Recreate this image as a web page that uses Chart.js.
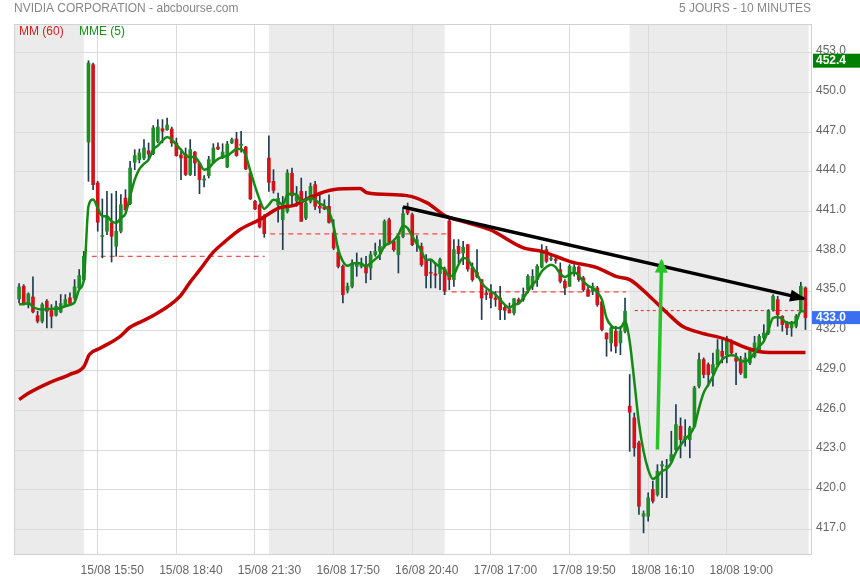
<!DOCTYPE html>
<html>
<head>
<meta charset="utf-8">
<script src="https://cdn.jsdelivr.net/npm/chart.js"></script>
<style>
html,body{margin:0;padding:0;background:#fff;}
#wrap{position:relative;width:860px;height:580px;}
</style>
</head>
<body>
<div id="wrap"><canvas id="c" width="860" height="580"></canvas></div>
<script>
// ---------- DATA (10-minute candles, index 0..170) ----------
const openP = [434.41,435.37,433.98,434.56,433.15,432.73,434.24,433.53,433.18,433.43,433.91,434.49,434.49,435.24,435.87,
446.26,452.10,443.17,439.11,439.52,440.15,438.39,439.52,442.03,441.60,444.73,444.93,445.05,445.60,445.38,446.31,447.27,447.19,447.24,446.19,445.28,445.35,443.80,445.50,444.67,443.37,443.72,444.68,445.88,445.20,444.37,446.19,446.49,446.00,445.88,443.92,441.78,441.50,440.65,
445.05,443.29,441.50,440.39,441.02,443.90,441.80,442.53,440.52,441.78,443.04,441.40,441.35,441.40,439.39,437.93,436.87,435.06,435.36,436.87,436.87,436.87,436.75,437.75,438.00,438.38,440.39,438.76,437.75,439.13,441.35,440.77,438.58,438.38,437.37,436.40,436.30,436.32,436.67,
440.30,435.87,438.38,437.88,438.51,436.75,436.40,435.87,434.86,434.86,434.48,434.48,433.78,433.60,433.35,434.36,434.36,435.11,435.36,435.87,436.82,438.13,437.42,437.40,436.62,435.74,435.36,436.50,436.82,435.99,435.11,434.98,435.24,434.20,431.84,431.09,431.97,431.09,431.97,
426.31,425.43,423.54,418.00,418.00,420.02,419.64,421.80,421.70,422.16,423.04,424.80,423.79,423.79,424.80,427.82,429.83,429.45,428.82,429.45,430.46,430.20,431.09,429.96,429.83,428.45,429.58,430.08,430.58,431.47,431.84,433.60,434.36,433.10,432.60,432.22,432.35,433.60,435.24];
const highP = [435.57,435.49,434.87,436.07,433.48,434.11,434.36,433.98,434.24,434.74,434.74,434.87,435.87,436.63,438.01,
452.40,452.22,443.29,441.96,442.54,442.36,442.54,442.29,442.66,444.80,445.68,445.73,446.44,446.19,447.50,447.95,447.95,448.07,447.39,446.56,445.55,445.81,446.44,445.55,444.73,443.72,445.18,446.13,446.19,446.13,446.31,446.56,446.99,447.07,445.93,443.97,441.86,441.60,440.78,
446.73,444.17,442.40,442.15,444.17,444.30,442.90,443.54,442.53,443.16,443.29,442.28,441.90,442.28,440.39,438.38,436.99,435.61,437.37,437.88,437.50,437.63,438.00,438.63,438.88,440.39,440.52,438.88,439.26,441.35,441.65,440.90,439.20,438.63,437.75,437.38,437.13,437.50,436.82,
440.45,438.89,438.89,438.76,438.51,437.13,438.13,435.87,435.11,435.49,434.98,435.36,433.98,434.10,434.43,434.48,435.24,436.25,436.62,437.00,438.51,438.38,437.80,437.70,437.13,435.87,437.00,437.00,436.92,436.12,435.36,435.61,435.36,434.36,431.84,432.35,432.35,432.35,434.48,
428.70,425.80,423.67,418.40,419.77,420.65,421.90,422.16,422.30,424.42,426.44,425.43,425.30,424.80,427.82,430.33,429.96,429.58,430.33,431.34,431.34,431.59,431.34,430.33,430.08,430.33,430.71,431.59,431.72,432.47,433.60,434.74,434.61,433.15,432.72,432.72,433.23,435.67,435.32];
const lowP = [434.11,433.98,433.73,433.36,432.60,432.60,432.22,432.22,433.10,433.36,433.86,433.98,434.36,435.12,435.75,
443.29,442.66,439.52,437.51,439.27,437.20,437.63,439.39,441.03,441.53,444.17,444.68,444.93,444.93,445.30,446.19,446.19,447.14,445.93,445.18,443.42,443.72,443.72,443.72,442.36,442.86,443.54,444.63,445.68,445.00,444.32,446.13,445.18,445.50,444.17,441.91,441.15,439.77,439.07,
442.53,442.40,440.20,438.13,440.90,441.50,441.40,440.27,440.40,441.65,441.15,440.90,441.15,440.14,438.13,436.75,434.10,434.86,435.24,436.12,436.75,435.61,435.86,437.63,437.37,438.25,438.58,438.00,436.37,439.01,440.77,438.43,438.00,436.87,435.24,435.24,435.24,435.11,434.73,
435.10,435.36,437.13,437.00,436.50,435.74,435.99,432.85,434.36,433.73,433.85,432.85,432.85,433.35,433.20,434.05,434.23,434.86,435.11,435.36,436.75,437.13,437.30,437.10,435.61,434.73,435.36,436.12,435.74,434.98,434.61,434.73,433.85,432.00,430.08,430.46,430.33,430.20,431.84,
422.90,422.53,418.13,416.75,417.63,419.00,419.52,419.40,419.40,422.03,422.91,422.41,423.29,422.41,424.67,427.69,428.45,427.82,427.82,429.33,429.58,429.58,430.20,427.94,428.70,428.45,429.45,429.96,430.46,431.34,431.72,433.48,432.35,431.97,431.72,431.59,432.22,433.48,432.10];
const closeP = [435.32,434.11,434.79,433.43,432.73,433.98,433.48,433.10,433.86,434.06,434.36,434.06,435.32,436.17,437.63,
452.22,443.04,440.20,439.20,440.65,439.14,439.52,441.53,441.15,444.30,445.23,445.43,445.81,445.35,447.32,447.39,447.07,447.54,446.19,445.23,445.05,443.80,445.68,444.67,443.42,443.47,444.93,445.81,445.73,445.50,446.11,446.44,445.23,446.10,444.22,441.96,441.20,439.84,439.34,
443.21,442.61,442.00,441.53,443.92,442.20,442.30,440.27,441.65,442.91,441.40,441.27,441.20,440.19,438.25,436.87,434.73,435.36,437.12,437.12,437.12,436.37,437.75,438.00,438.38,440.27,438.63,438.13,439.13,440.85,440.90,438.50,438.88,437.00,436.17,436.35,436.20,437.38,434.99,
435.87,438.13,437.83,438.31,436.67,435.87,436.10,434.48,434.73,434.48,434.36,433.60,433.55,433.35,434.43,434.10,434.73,436.12,436.12,436.87,438.06,437.25,437.50,437.30,435.74,435.24,436.87,436.82,435.87,435.11,434.61,435.36,433.98,432.10,431.39,432.22,430.84,431.97,433.48,
425.86,423.16,418.76,418.20,419.39,419.14,421.40,421.90,421.80,422.66,424.92,423.79,424.04,424.67,427.69,429.83,428.70,428.70,429.45,430.58,430.08,431.21,430.33,429.71,428.82,429.96,430.46,431.09,431.59,431.84,433.48,434.61,433.23,432.47,432.22,432.60,433.10,435.37,433.00];

// MME (5) read per candle
const mme5 = [434.0,434.0,434.1,433.8,433.66,433.61,433.63,433.66,433.66,433.73,433.86,433.96,434.16,435.12,435.87,
441.41,441.91,441.28,440.65,440.65,440.27,440.15,440.53,440.85,442.16,443.42,444.22,444.6,444.93,445.68,445.98,446.36,446.64,446.44,446.06,445.68,445.23,445.13,445.13,444.68,444.17,444.3,444.68,444.98,445.13,445.23,445.48,445.73,445.73,445.23,444.05,442.92,441.91,441.21,
441.53,441.9,441.78,441.53,442.28,442.36,442.28,441.78,441.9,442.03,441.9,441.6,441.45,441.02,439.89,438.13,437.25,436.92,437.07,437.12,437.07,436.87,437.12,437.42,437.75,438.43,438.58,438.83,439.26,439.94,439.76,439.13,438.58,438.0,437.37,437.38,437.08,436.82,436.62,
436.12,436.25,437.0,437.5,437.38,436.82,436.3,435.62,435.24,434.99,434.74,434.36,433.98,433.73,433.98,434.06,434.48,434.99,435.49,435.87,436.5,436.82,437.0,436.82,436.3,436.07,436.25,436.42,436.17,435.74,435.41,435.24,434.91,434.36,432.97,432.4,432.22,432.22,432.72,
431.2,428.2,425.05,422.9,421.53,420.82,421.02,421.4,421.58,422.03,422.84,423.34,423.84,424.17,424.8,426.18,427.32,427.94,428.57,429.33,429.83,430.08,430.16,430.08,429.71,429.71,429.88,430.33,430.84,431.21,432.1,432.97,433.05,432.9,432.6,432.6,432.72,433.48,433.48];

// MM (60) read at sample candles
const mm60Idx = [0,2.3,6.6,10.9,14,15.2,17.4,21.8,23.9,28.2,34.7,36.9,39.1,41.9,44.5,47.7,52,56.4,59.2,62.8,67.8,73.7,75.2,83.8,88.1,92.5,95.3,101.8,108.9,113.2,119.1,124.9,129.2,132,136.4,140,143.5,147.2,153,156.5,160.2,165.1,170];
const mm60Val = [426.81,427.34,428.09,428.7,429.3,430.21,430.66,431.57,432.25,433.0,434.58,435.64,436.62,437.91,438.74,439.64,440.4,441.3,441.45,442.06,442.66,442.74,442.43,442.21,441.68,440.62,440.32,439.64,438.28,437.98,437.23,436.77,436.09,435.87,434.58,433.38,432.32,431.87,431.34,430.81,430.43,430.36,430.36];

// previous-close dashed levels
const refLevel = [437.63,439.32,434.94,433.53];
const refFrom  = [15.7,54.3,93.5,133.1];
const refTo    = [53.1,92.5,131.2,170.3];

// trend arrows [index, price]
const blackArrow = [[83.0,441.35],[169.7,434.43]];
const greenArrow = [[138.0,423.04],[138.9,437.3]];

// sessions shaded (index ranges)
const shadeFrom = [-1.1,54,132];
const shadeTo   = [14,92,170.7];

const xTickIdx = [17,34,51,68,85,102,119,136,153];
const xTickLabels = ['15/08 15:50','15/08 18:40','15/08 21:30','16/08 17:50','16/08 20:40','17/08 17:00','17/08 19:50','18/08 16:10','18/08 19:00'];
const yTickVals = [417,420,423,426,429,432,435,438,441,444,447,450,453];

const titleText = 'NVIDIA CORPORATION - abcbourse.com';
const periodText = '5 JOURS - 10 MINUTES';
const legendNames = ['MM (60)','MME (5)'];

// ---------- BUILD ----------
const FONT = "'Liberation Sans', Arial, sans-serif";
Chart.defaults.font.family = FONT;
const UP = '#1f8c28', DOWN = '#d3121c', WICK = '#1f3b4e';
const idx = closeP.map((_, i) => i);

const wickData = idx.map(i => ({x: i, y: [lowP[i], highP[i]]}));
const bodyData = idx.map(i => ({x: i, y: [openP[i], closeP[i]]}));
const bodyColors = idx.map(i => closeP[i] >= openP[i] ? UP : DOWN);

const datasets = [
  {type:'line', label:'trend', data: blackArrow.map(p=>({x:p[0],y:p[1]})), borderColor:'#000', borderWidth:3.5, pointRadius:0, order:0},
  {type:'line', label:'up', data: greenArrow.map(p=>({x:p[0],y:p[1]})), borderColor:'#27c427', borderWidth:3.5, pointRadius:0, order:0},
  {type:'line', label:'MME5', data: idx.map(i=>({x:i,y:mme5[i]})), borderColor:'#148a14', borderWidth:2.5, pointRadius:0, cubicInterpolationMode:'monotone', order:1},
  {type:'line', label:'MM60', data: mm60Idx.map((v,k)=>({x:v,y:mm60Val[k]})), borderColor:'#c30000', borderWidth:3.5, pointRadius:0, cubicInterpolationMode:'monotone', order:2},
  {type:'bar', label:'body', data: bodyData, backgroundColor: bodyColors, barThickness:3, minBarLength:1, grouped:false, order:3},
  {type:'bar', label:'wick', data: wickData, backgroundColor: WICK, barThickness:1, grouped:false, order:4}
];
refLevel.forEach((lv,k) => {
  datasets.push({type:'line', label:'ref'+k, data:[{x:refFrom[k],y:lv},{x:refTo[k],y:lv}],
    borderColor: k===3 ? '#c8302f' : '#ff1f1f', borderWidth:1, borderDash: k===3 ? [3,3] : [5,4], pointRadius:0, order:5});
});

function arrowHead(ctx, x1, y1, x2, y2, L, W, color){
  const dx = x2-x1, dy = y2-y1, d = Math.hypot(dx,dy);
  const ux = dx/d, uy = dy/d, nx = -uy, ny = ux;
  ctx.beginPath();
  ctx.moveTo(x2 + ux*2, y2 + uy*2);
  ctx.lineTo(x2 - ux*L + nx*W, y2 - uy*L + ny*W);
  ctx.lineTo(x2 - ux*L - nx*W, y2 - uy*L - ny*W);
  ctx.closePath();
  ctx.fillStyle = color; ctx.fill();
}

const decor = {
  id:'decor',
  beforeDraw(chart){
    const {ctx, chartArea:a, scales:{x}} = chart;
    ctx.save();
    ctx.fillStyle = '#ebebeb';
    shadeFrom.forEach((s,k)=>{
      const x1 = Math.max(a.left, x.getPixelForValue(s));
      const x2 = Math.min(a.right, x.getPixelForValue(shadeTo[k]));
      ctx.fillRect(x1, a.top, x2-x1, a.bottom-a.top);
    });
    ctx.restore();
  },
  afterDraw(chart){
    const {ctx, chartArea:a, scales:{x,y}} = chart;
    ctx.save();
    // arrowheads
    const bx1 = x.getPixelForValue(blackArrow[0][0]), by1 = y.getPixelForValue(blackArrow[0][1]);
    const bx2 = x.getPixelForValue(blackArrow[1][0]), by2 = y.getPixelForValue(blackArrow[1][1]);
    arrowHead(ctx, bx1, by1, bx2, by2, 14, 6, '#000');
    const gx1 = x.getPixelForValue(greenArrow[0][0]), gy1 = y.getPixelForValue(greenArrow[0][1]);
    const gx2 = x.getPixelForValue(greenArrow[1][0]), gy2 = y.getPixelForValue(greenArrow[1][1]);
    arrowHead(ctx, gx1, gy1, gx2, gy2, 12, 6.5, '#27c427');
    // frame
    ctx.strokeStyle = '#d2d2d2'; ctx.lineWidth = 1;
    ctx.strokeRect(Math.round(a.left)+0.5, Math.round(a.top)+0.5, Math.round(a.right-a.left), Math.round(a.bottom-a.top));
    // header texts
    ctx.font = '12px ' + FONT; ctx.textBaseline = 'middle';
    ctx.fillStyle = '#878787'; ctx.textAlign = 'left';
    ctx.fillText(titleText, 14, 8.5);
    ctx.textAlign = 'right';
    ctx.fillText(periodText, a.right, 8.5);
    // legend
    ctx.textAlign = 'left';
    ctx.fillStyle = '#d41e1e'; ctx.fillText(legendNames[0], 19, 32);
    ctx.fillStyle = '#17901a'; ctx.fillText(legendNames[1], 79, 32);
    // price tags
    const hi = Math.max(...highP), last = closeP[closeP.length-1];
    ctx.font = 'bold 12px ' + FONT;
    let yc = y.getPixelForValue(hi);
    ctx.fillStyle = '#008000'; ctx.fillRect(a.right+2, yc-7, 860-a.right-2, 14);
    ctx.fillStyle = '#fff'; ctx.fillText(hi.toFixed(1), a.right+5, yc+0.5);
    yc = y.getPixelForValue(last);
    ctx.fillStyle = '#3c6ff0'; ctx.fillRect(a.right+1, yc-6.5, 860-a.right-1, 13);
    ctx.fillStyle = '#fff'; ctx.fillText(last.toFixed(1), a.right+5, yc+0.5);
    ctx.restore();
  }
};

new Chart(document.getElementById('c'), {
  data: {datasets},
  options: {
    responsive:false, animation:false, events:[],
    layout:{padding:{left:14, top:24, right:0, bottom:0}},
    plugins:{legend:{display:false}, tooltip:{enabled:false}},
    scales:{
      x:{type:'linear', min:-1.1, max:171.2, offset:false,
        afterBuildTicks: s => { s.ticks = xTickIdx.map(v=>({value:v})); },
        afterFit: s => { s.height = 26; },
        ticks:{autoSkip:false, maxRotation:0, labelOffset:14.5, padding:9, color:'#666', font:{size:12},
          callback:(v,i)=> xTickLabels[i]},
        grid:{color:'#dadada', drawTicks:false, offset:false}, border:{display:false}},
      y:{type:'linear', position:'right', min:415.15, max:455.17,
        afterBuildTicks: s => { s.ticks = yTickVals.map(v=>({value:v})); },
        afterFit: s => { s.width = 49; },
        ticks:{padding:5, labelOffset:-2, color:'#666', font:{size:12}, callback:v=>Number(v).toFixed(1)},
        grid:{color:'#dadada', drawTicks:false, offset:false}, border:{display:false}}
    }
  },
  plugins:[decor]
});
</script>
</body>
</html>
